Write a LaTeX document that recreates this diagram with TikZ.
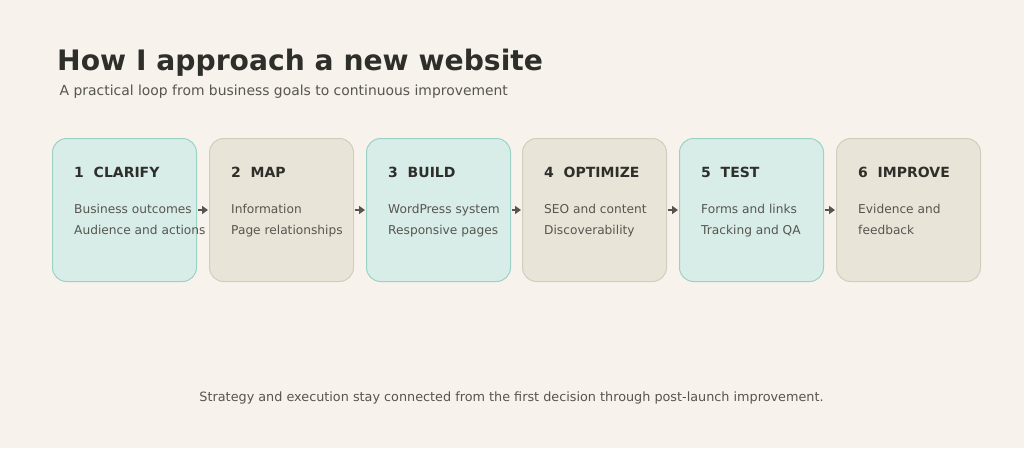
\documentclass[tikz,border=0pt]{standalone}
\usepackage{fontspec}
\setmainfont{DejaVu Sans}
\usetikzlibrary{arrows.meta}
\definecolor{bgpaper}{HTML}{F7F3EC}
\definecolor{tealfill}{HTML}{D8EDE8}
\definecolor{tealline}{HTML}{9CD2C6}
\definecolor{sandfill}{HTML}{E9E4D8}
\definecolor{sandline}{HTML}{D4CCBC}
\definecolor{inkdark}{HTML}{2E2E2A}
\definecolor{inkmid}{HTML}{57554F}
\definecolor{inkarrow}{HTML}{55544F}
\tikzset{
        stepbox/.style={rounded corners=14pt,minimum width=144pt,minimum height=143pt,anchor=north west,line width=1pt,inner sep=0pt},
        tealbox/.style={stepbox,fill=tealfill,draw=tealline},
        sandbox/.style={stepbox,fill=sandfill,draw=sandline},
        head/.style={anchor=base west,inner sep=0pt,text=inkdark,font=\fontsize{14}{16}\selectfont\bfseries},
        body/.style={anchor=base west,inner sep=0pt,text=inkmid,font=\fontsize{12.2}{15}\selectfont},
        flow/.style={draw=inkarrow,line width=2.5pt,-{Triangle[length=6pt,width=8pt]},shorten <=0.5pt,shorten >=1pt}
}
\begin{document}
\begin{tikzpicture}[x=1pt,y=-1pt]
        \fill[bgpaper] (0,0) rectangle (1024,448);
        \useasboundingbox (0,0) rectangle (1024,448);
        \node [anchor=base west,inner sep=0pt,text=inkdark,font=\fontsize{28.2}{32}\selectfont\bfseries] (title) at(57,70) {How I approach a new website};
        \node [anchor=base west,inner sep=0pt,text=inkmid,font=\fontsize{13.9}{17}\selectfont] (subtitle) at(59.5,95.5) {A practical loop from business goals to continuous improvement};

        \node [tealbox] (b1) at(52,138) {};
        \node [sandbox] (b2) at(209,138) {};
        \node [tealbox] (b3) at(366,138) {};
        \node [sandbox] (b4) at(522,138) {};
        \node [tealbox] (b5) at(679,138) {};
        \node [sandbox] (b6) at(836,138) {};

        \node [head] (h1) at(74,177) {1\hspace{0.7em}CLARIFY};
        \node [head] (h2) at(231,177) {2\hspace{0.7em}MAP};
        \node [head] (h3) at(388,177) {3\hspace{0.7em}BUILD};
        \node [head] (h4) at(544,177) {4\hspace{0.7em}OPTIMIZE};
        \node [head] (h5) at(701,177) {5\hspace{0.7em}TEST};
        \node [head] (h6) at(858,177) {6\hspace{0.7em}IMPROVE};

        \node [body] (t1a) at(74,213) {Business outcomes};
        \node [body] (t1b) at(74,234) {Audience and actions};
        \node [body] (t2a) at(231,213) {Information};
        \node [body] (t2b) at(231,234) {Page relationships};
        \node [body] (t3a) at(388,213) {WordPress system};
        \node [body] (t3b) at(388,234) {Responsive pages};
        \node [body] (t4a) at(544,213) {SEO and content};
        \node [body] (t4b) at(544,234) {Discoverability};
        \node [body] (t5a) at(701,213) {Forms and links};
        \node [body] (t5b) at(701,234) {Tracking and QA};
        \node [body] (t6a) at(858,213) {Evidence and};
        \node [body] (t6b) at(858,234) {feedback};

        \draw [flow] (b1.east) -- (b2.west);
        \draw [flow] (b2.east) -- (b3.west);
        \draw [flow] (b3.east) -- (b4.west);
        \draw [flow] (b4.east) -- (b5.west);
        \draw [flow] (b5.east) -- (b6.west);

        \node [anchor=base,inner sep=0pt,text=inkmid,font=\fontsize{12.8}{15}\selectfont] (footer) at(511.5,401.5) {Strategy and execution stay connected from the first decision through post-launch improvement.};
\end{tikzpicture}
\end{document}
